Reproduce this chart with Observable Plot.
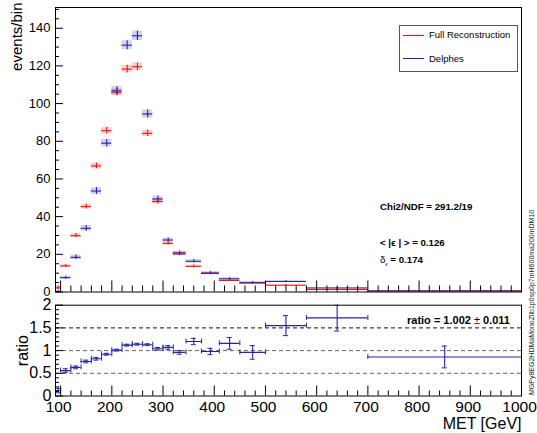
<!DOCTYPE html>
<html><head><meta charset="utf-8">
<script src="https://cdn.jsdelivr.net/npm/d3@7"></script>
<script src="https://cdn.jsdelivr.net/npm/@observablehq/plot@0.6"></script>
<style>
body{margin:0;background:#fff;}
#wrap{position:relative;width:537px;height:433px;overflow:hidden;font-family:"Liberation Sans",Arial,Helvetica,sans-serif;color:#000;}
#top,#bot{position:absolute;left:0;}
#top{top:0}
#bot{top:298px}
.t{position:absolute;white-space:nowrap;line-height:1;}
.b{font-weight:bold;}
</style></head><body>
<div id="wrap">
  <div id="top"></div>
  <div id="bot"></div>
  <div class="t" style="left:399px;top:25px;width:117px;height:45px;border:1px solid #555;background:#fff;"></div>
  <div class="t" style="left:403px;top:35px;width:21px;height:1px;background:#f01414;"></div>
  <div class="t" style="left:429px;top:30px;font-size:9.5px;">Full Reconstruction</div>
  <div class="t" style="left:403px;top:58px;width:21px;height:1px;background:#2424a6;"></div>
  <div class="t" style="left:429px;top:53.5px;font-size:9.5px;">Delphes</div>
  <div class="t b" style="left:380px;top:202px;font-size:9.7px;">Chi2/NDF = 291.2/19</div>
  <div class="t b" style="left:380px;top:238px;font-size:9.7px;">&lt; |ϵ | &gt; = 0.126</div>
  <div class="t b" style="left:380px;top:255px;font-size:9.7px;"><span style="font-weight:normal">δ</span><sub style="font-size:5px;font-weight:normal">ϵ</sub> = 0.174</div>
  <div class="t b" style="left:407px;top:314.5px;font-size:11px;">ratio = 1.002 <span style="font-weight:normal">±</span> 0.011</div>
  <div class="t" style="left:527.5px;top:395px;font-size:7px;transform:rotate(-90deg);transform-origin:0 0;color:#222;">MGPy8EG2HDMaMonoZllb1p0sp0p7mH600ma200mDM10</div>
</div>
<script>
// ---- data ----
const binLo = [90,100,120,140,160,180,200,220,240,260,280,300,320,345,375,410,450,500,580,700];
const binHi = [100,120,140,160,180,200,220,240,260,280,300,320,345,375,410,450,500,580,700,1000];
const fullReco    = [2.2,13.8,29.9,45.3,66.9,85.6,106.0,118.3,119.6,84.2,48.0,25.8,20.9,13.6,10.1,6.1,5.0,3.6,1.3,0.65];
const fullRecoErr = [1.0,0.8,1.1,1.3,1.5,1.7,1.9,2.0,2.0,1.7,1.3,0.9,0.8,0.7,0.6,0.5,0.45,0.35,0.2,0.12];
const delphes     = [0.3,7.6,18.4,33.8,53.6,79.0,106.8,131.0,136.0,94.5,49.4,27.6,20.2,16.3,9.9,7.0,4.8,5.6,2.1,0.55];
const delphesErr  = [0.3,0.8,1.2,1.5,1.8,2.0,2.2,2.4,2.5,2.1,1.5,1.1,1.0,0.9,0.7,0.6,0.5,0.5,0.3,0.12];
const ratio       = [0.12,0.56,0.63,0.76,0.82,0.92,1.01,1.12,1.14,1.13,1.04,1.07,0.96,1.20,0.98,1.16,0.96,1.55,1.72,0.86];
const ratioErr    = [0.05,0.04,0.03,0.03,0.03,0.02,0.02,0.02,0.02,0.02,0.03,0.04,0.04,0.07,0.07,0.13,0.15,0.22,0.29,0.24];
const xTicks = [100,200,300,400,500,600,700,800,900,1000];
const yTicksTop = [0,20,40,60,80,100,120,140];
const yTicksRatio = [0,0.5,1,1.5,2];
const refLines = [0.5,1,1.5];

const rows = binLo.map((lo,i)=>({lo, hi: binHi[i], c:(lo+binHi[i])/2,
  f: fullReco[i], fe: fullRecoErr[i], d: delphes[i], de: delphesErr[i], r: ratio[i], re: ratioErr[i]}));

const font = '"Liberation Sans", Arial, Helvetica, sans-serif';
const RED = "#f01414", BLUE = "#2424a6";
const xMinor = d3.range(100, 1001, 20).filter(v => v % 100 !== 0);
const yMinorTop = d3.range(0, 151, 5).filter(v => v % 20 !== 0);
const yMinorRatio = d3.range(1, 20).map(v => v/10).filter(v => Math.round(v*10) % 5 !== 0);

const topPlot = Plot.plot({
  width: 537, height: 298, marginLeft: 55, marginRight: 16, marginTop: 7, marginBottom: 6.5,
  style: {fontFamily: font, fontSize: "13px", color: "#000", background: "transparent"},
  x: {domain: [90, 1000], axis: null},
  y: {domain: [0, 151], ticks: yTicksTop, tickSize: 0, tickPadding: 5, label: null},
  marks: [
    Plot.rect(rows, {x1: "lo", x2: "hi", y1: d => Math.max(0, d.f - d.fe), y2: d => d.f + d.fe, fill: RED, fillOpacity: 0.2}),
    Plot.rect(rows, {x1: "lo", x2: "hi", y1: d => Math.max(0, d.d - d.de), y2: d => d.d + d.de, fill: BLUE, fillOpacity: 0.2}),
    Plot.ruleY(rows, {y: "f", x1: "lo", x2: "hi", stroke: RED, strokeWidth: 1.1}),
    Plot.ruleX(rows, {x: "c", y1: d => d.f - d.fe, y2: d => d.f + d.fe, stroke: RED, strokeWidth: 1.1}),
    Plot.ruleY(rows, {y: "d", x1: "lo", x2: "hi", stroke: BLUE, strokeWidth: 1.1}),
    Plot.ruleX(rows, {x: "c", y1: d => Math.max(0, d.d - d.de), y2: d => d.d + d.de, stroke: BLUE, strokeWidth: 1.1}),
    Plot.ruleX(xTicks, {x: d => d, y1: 0, y2: 0, insetTop: -11, stroke: "#000"}),
    Plot.ruleX(xMinor, {x: d => d, y1: 0, y2: 0, insetTop: -6, stroke: "#000"}),
    Plot.ruleY(yTicksTop, {y: d => d, x1: 90, x2: 90, insetRight: -8, stroke: "#000"}),
    Plot.ruleY(yMinorTop, {y: d => d, x1: 90, x2: 90, insetRight: -4, stroke: "#000"}),
    Plot.text(["events/bin"], {text: d => d, frameAnchor: "top-left", dx: -38, dy: -5, rotate: -90, textAnchor: "end", lineAnchor: "middle", fontSize: 15}),
    Plot.frame({stroke: "#000"})
  ]
});
document.getElementById("top").appendChild(topPlot);

const botPlot = Plot.plot({
  width: 537, height: 135, marginLeft: 55, marginRight: 16, marginTop: 6.7, marginBottom: 37.5,
  style: {fontFamily: font, fontSize: "16px", color: "#000", background: "transparent", overflow: "visible"},
  x: {domain: [90, 1000], axis: null},
  y: {domain: [0, 2], ticks: yTicksRatio, tickSize: 0, tickPadding: 4, tickFormat: d => String(d), label: null},
  marks: [
    Plot.ruleY(refLines, {y: d => d, stroke: d => d === 1.5 ? "#111" : "#666", strokeDasharray: "4,3"}),
    Plot.ruleY(rows, {y: "r", x1: "lo", x2: "hi", stroke: BLUE, strokeWidth: 1.1, clip: true}),
    Plot.ruleX(rows, {x: "lo", y1: "r", y2: "r", insetTop: -2.5, insetBottom: -2.5, stroke: BLUE, clip: true}),
    Plot.ruleX(rows, {x: "hi", y1: "r", y2: "r", insetTop: -2.5, insetBottom: -2.5, stroke: BLUE, clip: true}),
    Plot.ruleX(rows, {x: "c", y1: d => d.r - d.re, y2: d => d.r + d.re, stroke: BLUE, strokeWidth: 1.1, clip: true}),
    Plot.ruleY(rows, {y: d => d.r - d.re, x1: "c", x2: "c", insetLeft: -2.5, insetRight: -2.5, stroke: BLUE, clip: true}),
    Plot.ruleY(rows, {y: d => d.r + d.re, x1: "c", x2: "c", insetLeft: -2.5, insetRight: -2.5, stroke: BLUE, clip: true}),
    Plot.ruleX(xTicks, {x: d => d, y1: 0, y2: 0, insetTop: -10, stroke: "#000"}),
    Plot.ruleX(xMinor, {x: d => d, y1: 0, y2: 0, insetTop: -5, stroke: "#000"}),
    Plot.ruleY(yTicksRatio, {y: d => d, x1: 90, x2: 90, insetRight: -8, stroke: "#000"}),
    Plot.ruleY(yMinorRatio, {y: d => d, x1: 90, x2: 90, insetRight: -4, stroke: "#000"}),
    Plot.text(xTicks, {x: d => d, text: d => String(d), frameAnchor: "bottom", dy: 11.5, dx: -2, lineAnchor: "middle", textAnchor: "middle", fontSize: 15.5}),
    Plot.text(["ratio"], {text: d => d, frameAnchor: "left", dx: -33, rotate: -90, textAnchor: "middle", lineAnchor: "middle", fontSize: 16}),
    Plot.text(["MET [GeV]"], {text: d => d, frameAnchor: "bottom-right", dy: 27.5, textAnchor: "end", lineAnchor: "middle", fontSize: 16}),
    Plot.frame({stroke: "#000"})
  ]
});
document.getElementById("bot").appendChild(botPlot);
</script>
</body></html>
